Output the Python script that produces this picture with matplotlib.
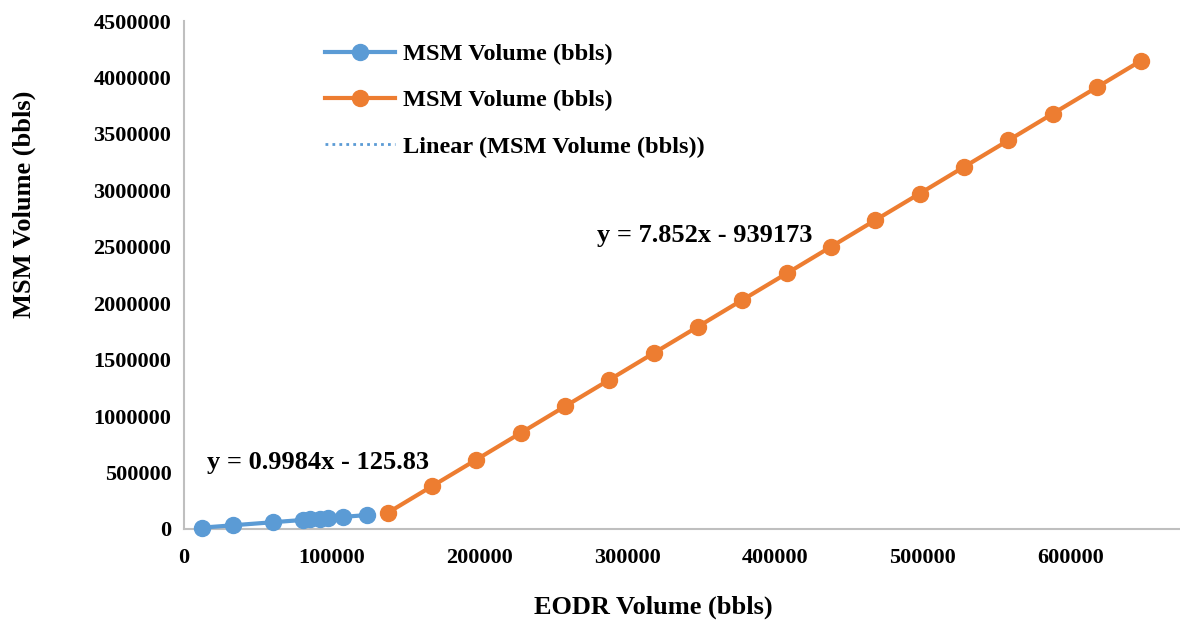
import numpy as np
import matplotlib
matplotlib.use("Agg")
import matplotlib.pyplot as plt

# EODR volume (x) vs MSM volume (y), in barrels
eodr_low = [12200, 33200, 60300, 80600, 85300, 92100, 97500, 107700, 123900]
msm_low = [12050, 33000, 60100, 80350, 85050, 91850, 97200, 107400, 123600]

eodr_high = [138000, 168000, 198000, 228000, 258000, 288000, 318000, 348000, 378000,
             408000, 438000, 468000, 498000, 528000, 558000, 588000, 618000, 648000]
msm_high = [144000, 380000, 615000, 851000, 1087000, 1322000, 1558000, 1793000, 2029000,
            2264000, 2500000, 2736000, 2971000, 3207000, 3442000, 3678000, 3913000, 4149000]

# linear fits (slope, intercept)
fit_low = (0.9984, -125.83)
fit_high = (7.852, -939173)

x_ticks = [0, 100000, 200000, 300000, 400000, 500000, 600000]
y_ticks = [0, 500000, 1000000, 1500000, 2000000, 2500000, 3000000, 3500000, 4000000, 4500000]

series_label = "MSM Volume (bbls)"
trend_label = "Linear (MSM Volume (bbls))"
x_title = "EODR Volume (bbls)"
y_title = "MSM Volume (bbls)"

blue = "#5B9BD5"
orange = "#ED7D31"
axis_grey = "#BFBFBF"

plt.rcParams["font.family"] = ["Liberation Serif", "DejaVu Serif"]
plt.rcParams["font.weight"] = "bold"

W, H = 1180, 625
fig = plt.figure(figsize=(W / 100, H / 100), dpi=100)

# plot area in pixels: x 0 -> 184 px, 700000 -> 1218 px; y 0 -> 529 px, 4500000 -> 21 px
left, right = 184, 1218
bottom, top = 529, 21
ax = fig.add_axes([left / W, 1 - bottom / H, (right - left) / W, (bottom - top) / H])
ax.set_xlim(0, 700000)
ax.set_ylim(0, 4500000)

ax.plot(eodr_low, msm_low, color=blue, lw=3, marker="o", ms=11.5,
        label=series_label, zorder=3, clip_on=False)
ax.plot(eodr_high, msm_high, color=orange, lw=3, marker="o", ms=11.5,
        label=series_label, zorder=3, clip_on=False)

xl = np.array([min(eodr_low), max(eodr_low)])
ax.plot(xl, fit_low[0] * xl + fit_low[1], color=blue, lw=2, ls=(0, (1, 1.5)),
        label=trend_label, zorder=2)
xh = np.array([min(eodr_high), max(eodr_high)])
ax.plot(xh, fit_high[0] * xh + fit_high[1], color=orange, lw=2, ls=(0, (1, 1.5)),
        zorder=2)

ax.set_xticks(x_ticks)
ax.set_yticks(y_ticks)
ax.set_xticklabels([str(v) for v in x_ticks])
ax.set_yticklabels([str(v) for v in y_ticks])
ax.tick_params(length=0, labelsize=16, colors="black")
ax.tick_params(axis="x", pad=14)
ax.tick_params(axis="y", pad=9)
for lab in ax.get_xticklabels() + ax.get_yticklabels():
    lab.set_fontweight("bold")

for s in ("top", "right"):
    ax.spines[s].set_visible(False)
for s in ("left", "bottom"):
    ax.spines[s].set_color(axis_grey)
    ax.spines[s].set_linewidth(1.5)

fig.text(653 / W, 1 - 607 / H, x_title, ha="center", va="center",
         fontsize=19, fontweight="bold")
fig.text(24 / W, 1 - 204 / H, y_title, ha="center", va="center", rotation=90,
         fontsize=19, fontweight="bold")

fig.text(207 / W, 1 - 462 / H, f"y = {fit_low[0]}x - {abs(fit_low[1])}",
         ha="left", va="center", fontsize=19, fontweight="bold")
fig.text(597 / W, 1 - 236 / H, f"y = {fit_high[0]}x - {abs(fit_high[1])}",
         ha="left", va="center", fontsize=19, fontweight="bold")

leg = ax.legend(loc="upper left", bbox_to_anchor=(325 / W, 1 - 43 / H),
                bbox_transform=fig.transFigure, frameon=False,
                prop={"size": 17.5, "weight": "bold"}, handlelength=2.9,
                handletextpad=0.3, labelspacing=1.0, borderpad=0,
                borderaxespad=0)

fig.savefig("out.png", dpi=100)
